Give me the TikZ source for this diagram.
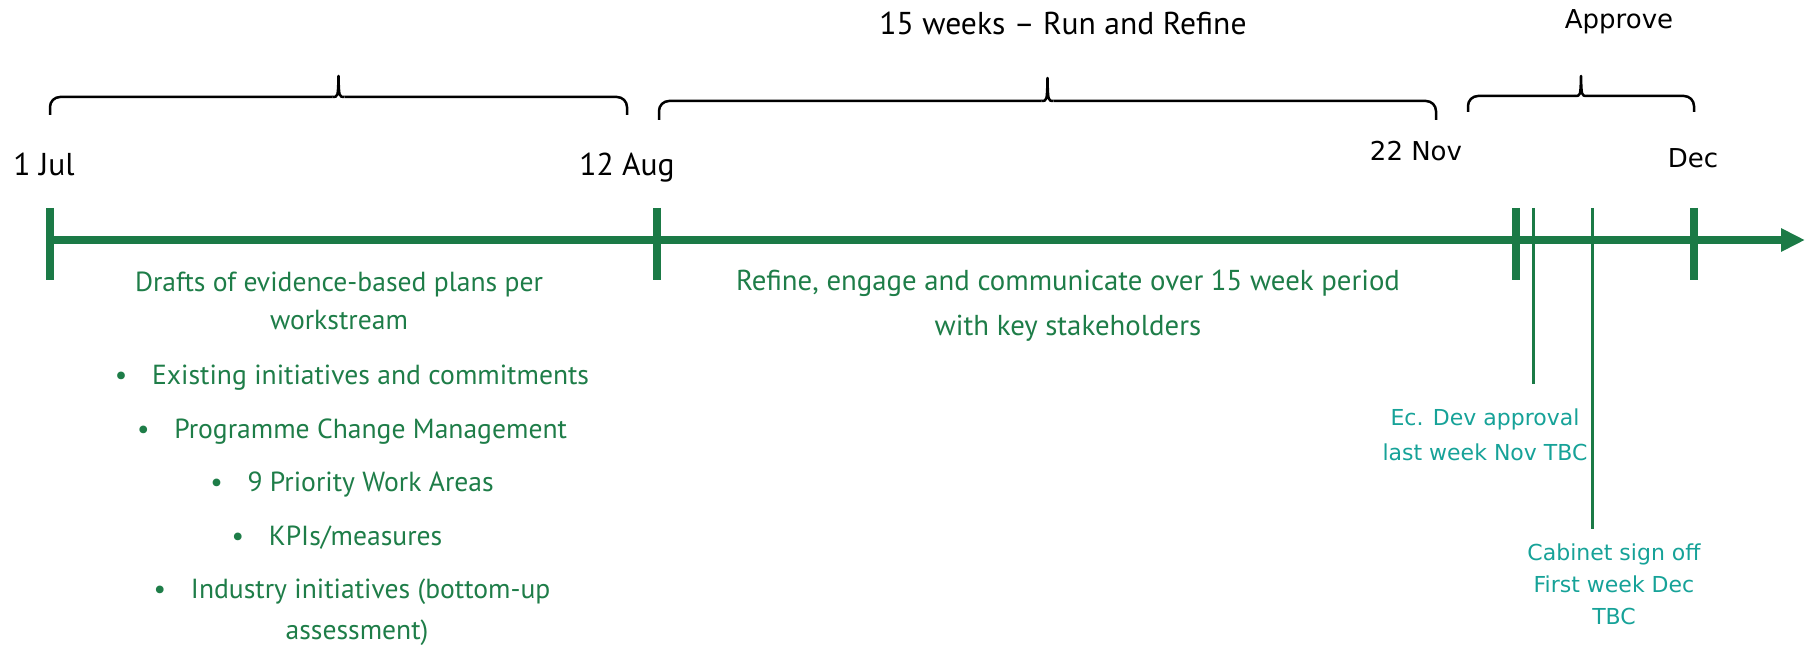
\documentclass[tikz,border=0pt]{standalone}
\usepackage{fontspec}
\setmainfont{PT Sans}
\newfontfamily\widefont{DejaVu Sans}
\usetikzlibrary{arrows.meta,positioning}
\definecolor{axisgreen}{RGB}{27,122,70}
\definecolor{notegreen}{RGB}{30,125,72}
\definecolor{signteal}{RGB}{22,162,152}

\begin{document}
\begin{tikzpicture}[x=0.5pt,y=-0.5pt,semithick]
			\tikzstyle{date}=[font=\fontsize{15.8}{18}\selectfont,text=black,inner sep=0pt]
			\tikzstyle{widedate}=[font=\widefont\fontsize{13}{15}\selectfont,text=black,inner sep=0pt]
			\tikzstyle{note}=[font=\fontsize{13.8}{19}\selectfont,text=notegreen,align=center,inner sep=0pt]
			\tikzstyle{milestone}=[font=\widefont\fontsize{11}{17.5}\selectfont,text=signteal,align=center,inner sep=0pt]
			\tikzstyle{tick}=[line width=4pt,draw=axisgreen]
			\tikzstyle{marker}=[line width=1.5pt,draw=axisgreen]
			\tikzstyle{bracepath}=[line width=1.25pt,draw=black,line join=round]
			\newcommand{\itembullet}{\textbullet\hspace{0.9em}}
			
			\useasboundingbox (0,0) rectangle (1812,647);
			
			% dates on the axis
			\coordinate (jul) at (50,240);
			\coordinate (aug) at (657,240);
			\coordinate (nov) at (1516,240);
			\coordinate (dec) at (1694,240);
			\coordinate (tip) at (1805,240);
			\coordinate (ecdevtop) at (1533,208);
			\coordinate (ecdevfoot) at (1533,384);
			\coordinate (cabtop) at (1592,208);
			\coordinate (cabfoot) at (1592,529);
			
			\draw[-{Triangle[length=12pt,width=11pt]},line width=4pt,axisgreen] (jul) -- (tip);
			\foreach \x in {50,657,1516,1694}
			\draw[tick] (\x,208) -- (\x,280);
			\draw[marker] (ecdevtop) -- (ecdevfoot);
			\draw[marker] (cabtop) -- (cabfoot);
			
			\node[date]      (juldate) at (44,164)   {1 Jul};
			\node[date]      (augdate) at (627,168)  {12 Aug};
			\node[widedate]  (novdate) at (1416,151) {22 Nov};
			\node[widedate]  (decdate) at (1693,158) {Dec};
			
			% phases: left x / right x / end y / line y / tip y
			\foreach \l/\r/\e/\h/\t in {50/627/115/97/76, 659/1436/120/101/78, 1468/1694/112/96/76}{
				\pgfmathsetmacro{\m}{(\l+\r)/2}
				\draw[bracepath,rounded corners=5pt] (\l,\e) |- (\m-6,\h);
				\draw[bracepath,rounded corners=5pt] (\r,\e) |- (\m+6,\h);
				\draw[bracepath] (\m-6,\h) .. controls (\m-0.5,\h) .. (\m,\t)
				.. controls (\m+0.5,\h) .. (\m+6,\h);
			}
			\node[date]      (runphase) at (1063,23) {15 weeks -- Run and Refine};
			\node[widedate]  (approve)  at (1619,22) {Approve};
			
			% what happens in each phase
			\node[note] (drafts) at (339,301) {Drafts of evidence-based plans per\\workstream};
			\node[note] (existing) at (352,378) {\itembullet Existing initiatives and commitments};
			\node[note] (change)   at (352,432) {\itembullet Programme Change Management};
			\node[note] (areas)    at (352,485) {\itembullet 9 Priority Work Areas};
			\node[note] (kpis)     at (337,538) {\itembullet KPIs/measures};
			\node[note] (industry) at (352,592) {\itembullet Industry initiatives (bottom-up};
			\node[note] (assess)   at (357,633) {assessment)};
			\node[note,font=\fontsize{14.4}{22.5}\selectfont] (refine) at (1068,306)
			{Refine, engage and communicate over 15 week period\\with key stakeholders};
			
			\node[milestone] (ecdev) at (1485,435) {Ec. Dev approval\\last week Nov TBC};
			\node[milestone,font=\widefont\fontsize{11}{16}\selectfont] (cabinet) at (1614,584)
			{Cabinet sign off\\First week Dec\\TBC};
\end{tikzpicture}
\end{document}
